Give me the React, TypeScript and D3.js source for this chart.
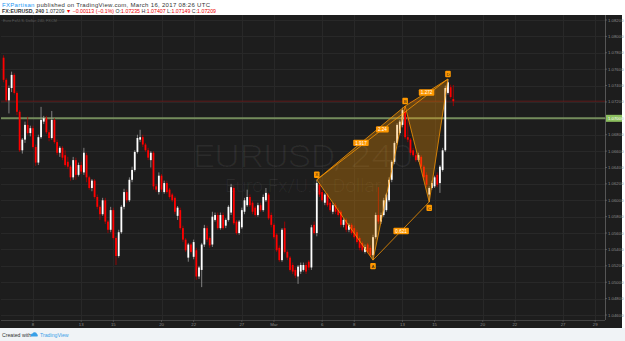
import React from "react";
import * as d3 from "d3";

// ---- data ----
// bar index (6 four-hour bars per trading day, bar 0 = Feb 6 2017 first bar)
const startBar = 1;
// [open, high, low, close]
const candles: number[][] = [
  [1.0774, 1.0777, 1.0744, 1.0747], [1.0747, 1.0749, 1.0720, 1.0722], [1.0722, 1.0740, 1.0706, 1.0737],
  [1.0737, 1.0757, 1.0732, 1.0753], [1.0753, 1.0755, 1.0729, 1.0731], [1.0731, 1.0733, 1.0704, 1.0708],
  [1.0708, 1.0710, 1.0659, 1.0661], [1.0661, 1.0676, 1.0657, 1.0674], [1.0674, 1.0696, 1.0670, 1.0692],
  [1.0692, 1.0702, 1.0680, 1.0682], [1.0682, 1.0691, 1.0678, 1.0688], [1.0688, 1.0691, 1.0663, 1.0665],
  [1.0665, 1.0668, 1.0642, 1.0646], [1.0646, 1.0680, 1.0643, 1.0677], [1.0677, 1.0714, 1.0675, 1.0698],
  [1.0696, 1.0703, 1.0693, 1.0700], [1.0700, 1.0703, 1.0681, 1.0683], [1.0683, 1.0686, 1.0672, 1.0676],
  [1.0676, 1.0709, 1.0674, 1.0698], [1.0698, 1.0700, 1.0669, 1.0671], [1.0671, 1.0674, 1.0655, 1.0658],
  [1.0658, 1.0666, 1.0653, 1.0664], [1.0664, 1.0666, 1.0649, 1.0652], [1.0655, 1.0661, 1.0641, 1.0643],
  [1.0647, 1.0653, 1.0638, 1.0641], [1.0641, 1.0643, 1.0624, 1.0628], [1.0628, 1.0653, 1.0625, 1.0649],
  [1.0649, 1.0652, 1.0625, 1.0631], [1.0631, 1.0646, 1.0629, 1.0643], [1.0643, 1.0647, 1.0632, 1.0635],
  [1.0634, 1.0664, 1.0631, 1.0658], [1.0655, 1.0658, 1.0622, 1.0628], [1.0628, 1.0630, 1.0613, 1.0615],
  [1.0615, 1.0626, 1.0611, 1.0624], [1.0624, 1.0626, 1.0602, 1.0604], [1.0604, 1.0607, 1.0589, 1.0592],
  [1.0592, 1.0594, 1.0576, 1.0583], [1.0583, 1.0603, 1.0581, 1.0600], [1.0600, 1.0603, 1.0571, 1.0574],
  [1.0574, 1.0576, 1.0560, 1.0564], [1.0564, 1.0592, 1.0561, 1.0588], [1.0588, 1.0591, 1.0552, 1.0554],
  [1.0554, 1.0556, 1.0521, 1.0532], [1.0532, 1.0564, 1.0530, 1.0561], [1.0561, 1.0594, 1.0559, 1.0592],
  [1.0592, 1.0614, 1.0589, 1.0610], [1.0610, 1.0613, 1.0597, 1.0600], [1.0600, 1.0628, 1.0598, 1.0625],
  [1.0625, 1.0641, 1.0622, 1.0637], [1.0637, 1.0661, 1.0635, 1.0659], [1.0659, 1.0680, 1.0657, 1.0676],
  [1.0674, 1.0686, 1.0671, 1.0677], [1.0677, 1.0680, 1.0665, 1.0668], [1.0668, 1.0670, 1.0659, 1.0661],
  [1.0661, 1.0664, 1.0649, 1.0652], [1.0649, 1.0660, 1.0640, 1.0658], [1.0658, 1.0660, 1.0613, 1.0617],
  [1.0617, 1.0620, 1.0610, 1.0613], [1.0610, 1.0634, 1.0607, 1.0630], [1.0630, 1.0632, 1.0610, 1.0613],
  [1.0610, 1.0624, 1.0608, 1.0621], [1.0621, 1.0624, 1.0608, 1.0610], [1.0613, 1.0615, 1.0602, 1.0604],
  [1.0607, 1.0609, 1.0598, 1.0600], [1.0603, 1.0605, 1.0583, 1.0586], [1.0581, 1.0593, 1.0576, 1.0591],
  [1.0588, 1.0591, 1.0564, 1.0566], [1.0566, 1.0569, 1.0549, 1.0552], [1.0552, 1.0554, 1.0537, 1.0539],
  [1.0530, 1.0548, 1.0525, 1.0546], [1.0546, 1.0548, 1.0535, 1.0537], [1.0531, 1.0552, 1.0528, 1.0549],
  [1.0539, 1.0542, 1.0503, 1.0507], [1.0507, 1.0520, 1.0504, 1.0518], [1.0515, 1.0548, 1.0494, 1.0546],
  [1.0546, 1.0570, 1.0543, 1.0566], [1.0566, 1.0569, 1.0549, 1.0552], [1.0554, 1.0556, 1.0542, 1.0545],
  [1.0546, 1.0586, 1.0543, 1.0580], [1.0576, 1.0585, 1.0574, 1.0582], [1.0582, 1.0585, 1.0564, 1.0566],
  [1.0566, 1.0585, 1.0564, 1.0582], [1.0582, 1.0585, 1.0564, 1.0566], [1.0569, 1.0578, 1.0566, 1.0576],
  [1.0576, 1.0594, 1.0574, 1.0592], [1.0585, 1.0620, 1.0582, 1.0616], [1.0615, 1.0617, 1.0570, 1.0572],
  [1.0574, 1.0576, 1.0558, 1.0560], [1.0560, 1.0576, 1.0558, 1.0574], [1.0567, 1.0591, 1.0565, 1.0588],
  [1.0586, 1.0603, 1.0583, 1.0600], [1.0594, 1.0613, 1.0592, 1.0604], [1.0604, 1.0607, 1.0592, 1.0594],
  [1.0597, 1.0599, 1.0583, 1.0586], [1.0591, 1.0593, 1.0580, 1.0582], [1.0582, 1.0597, 1.0580, 1.0594],
  [1.0594, 1.0597, 1.0586, 1.0588], [1.0588, 1.0607, 1.0586, 1.0604], [1.0600, 1.0615, 1.0598, 1.0609],
  [1.0607, 1.0609, 1.0576, 1.0578], [1.0582, 1.0585, 1.0567, 1.0570], [1.0570, 1.0572, 1.0553, 1.0555],
  [1.0558, 1.0560, 1.0537, 1.0539], [1.0542, 1.0545, 1.0525, 1.0527], [1.0527, 1.0566, 1.0525, 1.0564],
  [1.0566, 1.0574, 1.0535, 1.0537], [1.0537, 1.0539, 1.0527, 1.0530], [1.0530, 1.0532, 1.0513, 1.0515],
  [1.0521, 1.0524, 1.0510, 1.0513], [1.0515, 1.0518, 1.0505, 1.0508], [1.0507, 1.0521, 1.0498, 1.0519],
  [1.0513, 1.0524, 1.0510, 1.0521], [1.0515, 1.0524, 1.0513, 1.0521], [1.0521, 1.0524, 1.0510, 1.0513],
  [1.0525, 1.0527, 1.0515, 1.0518], [1.0518, 1.0570, 1.0515, 1.0567], [1.0570, 1.0574, 1.0558, 1.0560],
  [1.0560, 1.0625, 1.0556, 1.0621], [1.0619, 1.0621, 1.0604, 1.0607], [1.0610, 1.0613, 1.0598, 1.0600],
  [1.0597, 1.0609, 1.0594, 1.0607], [1.0607, 1.0609, 1.0592, 1.0594], [1.0597, 1.0599, 1.0586, 1.0588],
  [1.0586, 1.0597, 1.0583, 1.0594], [1.0594, 1.0597, 1.0583, 1.0586], [1.0588, 1.0591, 1.0580, 1.0582],
  [1.0586, 1.0588, 1.0567, 1.0570], [1.0570, 1.0578, 1.0567, 1.0576], [1.0576, 1.0578, 1.0561, 1.0564],
  [1.0564, 1.0572, 1.0561, 1.0570], [1.0570, 1.0572, 1.0558, 1.0560], [1.0566, 1.0569, 1.0553, 1.0555],
  [1.0561, 1.0564, 1.0547, 1.0549], [1.0554, 1.0556, 1.0539, 1.0542], [1.0548, 1.0550, 1.0537, 1.0539],
  [1.0537, 1.0546, 1.0535, 1.0543], [1.0546, 1.0548, 1.0535, 1.0537], [1.0542, 1.0545, 1.0531, 1.0533],
  [1.0533, 1.0558, 1.0527, 1.0555], [1.0555, 1.0585, 1.0553, 1.0582], [1.0582, 1.0616, 1.0571, 1.0574],
  [1.0574, 1.0585, 1.0571, 1.0582], [1.0582, 1.0603, 1.0580, 1.0600], [1.0588, 1.0609, 1.0586, 1.0607],
  [1.0600, 1.0628, 1.0598, 1.0625], [1.0625, 1.0649, 1.0622, 1.0647], [1.0647, 1.0672, 1.0644, 1.0670],
  [1.0670, 1.0694, 1.0668, 1.0692], [1.0682, 1.0698, 1.0680, 1.0696], [1.0692, 1.0713, 1.0689, 1.0710],
  [1.0708, 1.0715, 1.0675, 1.0677], [1.0677, 1.0704, 1.0671, 1.0674], [1.0674, 1.0676, 1.0655, 1.0658],
  [1.0661, 1.0664, 1.0653, 1.0655], [1.0655, 1.0658, 1.0647, 1.0649], [1.0649, 1.0658, 1.0647, 1.0655],
  [1.0653, 1.0655, 1.0638, 1.0641], [1.0641, 1.0643, 1.0625, 1.0628], [1.0631, 1.0634, 1.0616, 1.0619],
  [1.0607, 1.0617, 1.0598, 1.0615], [1.0615, 1.0624, 1.0613, 1.0621], [1.0617, 1.0630, 1.0615, 1.0628],
  [1.0631, 1.0634, 1.0616, 1.0619], [1.0621, 1.0643, 1.0609, 1.0641], [1.0637, 1.0664, 1.0635, 1.0661],
  [1.0661, 1.0740, 1.0659, 1.0737], [1.0731, 1.0748, 1.0729, 1.0744], [1.0738, 1.0741, 1.0724, 1.0726],
  [1.07235, 1.07407, 1.07149, 1.07209],
];

const priceTicks = [1.082, 1.080, 1.078, 1.076, 1.074, 1.072, 1.070, 1.068, 1.066, 1.064, 1.062, 1.060,
  1.058, 1.056, 1.054, 1.052, 1.050, 1.048, 1.046];
const dayTickLabels = ["8", "13", "15", "20", "22", "27", "Mar", "6", "8", "13", "15", "20", "22", "27", "29"];
const dayTickIndex = [2, 5, 7, 10, 12, 15, 17, 20, 22, 25, 27, 30, 32, 35, 37];
const barsPerDay = 6;

const lastPrice = 1.07209;
const horizontalLevel = 1.07;

const patternNames = ["X", "A", "B", "C", "D"];
const patternBars = [118, 139, 151, 160, 167];
const patternPrices = [1.0625, 1.0527, 1.0715, 1.0598, 1.0748];
// ratio labels: [from point, to point, text]
const ratioFrom = [0, 0, 2, 1];
const ratioTo = [2, 4, 4, 3];
const ratioText = ["1.917", "2.24", "1.272", "0.621"];

const headerLine1 = "published on TradingView.com, March 16, 2017 08:26 UTC";

export default function App() {
  const W = 625, H = 341;
  const paneL = 1, paneR = 605, paneT = 15, paneB = 320;
  const x = d3.scaleLinear().domain([0, 222]).range([0.9, 595.2]);
  const y = d3.scaleLinear().domain([1.046, 1.082]).range([315, 20]);
  const fmt = d3.format(".5f");
  const bodyW = 1.8;

  const pts = patternBars.map((b, i) => [x(b), y(patternPrices[i])] as [number, number]);
  const tri = (a: number, b: number, c: number) =>
    d3.line()([pts[a], pts[b], pts[c], pts[a]]) as string;
  const orange = "#ff9800";
  const segs: [number, number][] = [[0, 1], [1, 2], [2, 3], [3, 4], [0, 2], [2, 4], [0, 4], [1, 3]];

  return (
    <svg width={W} height={H} style={{ position: "absolute", left: 0, top: 0, display: "block" }}
      fontFamily="'Liberation Sans', Arial, sans-serif">
      <rect x={0} y={0} width={W} height={H} fill="#ffffff" />
      {/* header */}
      <text x={2} y={6.5} fontSize={6} fill="#333" textLength={208} lengthAdjust="spacing">
        <tspan fill="#2196f3">FXPartisan</tspan> {headerLine1}
      </text>
      <text x={2} y={12.5} fontSize={5.2} fill="#333" textLength={214} lengthAdjust="spacing">
        <tspan fontWeight="bold">FX:EURUSD, 240</tspan> 1.07209 <tspan fill="#e00">▼ −0.00113 (−0.1%)</tspan> O:<tspan fill="#e00">1.07235</tspan> H:<tspan fill="#e00">1.07407</tspan> L:<tspan fill="#e00">1.07149</tspan> C:<tspan fill="#e00">1.07209</tspan>
      </text>
      {/* dark chart area */}
      <rect x={0} y={paneT} width={622} height={328 - paneT} fill="#1d1d1d" />
      <g clipPath="url(#pane)">
        <defs>
          <clipPath id="pane"><rect x={paneL} y={paneT} width={paneR - paneL} height={paneB - paneT} /></clipPath>
        </defs>
        {priceTicks.map((p, i) => (
          <line key={"hg" + i} x1={paneL} x2={paneR} y1={Math.round(y(p)) + 0.5} y2={Math.round(y(p)) + 0.5} stroke="#282828" />
        ))}
        {dayTickIndex.map((d, i) => (
          <line key={"vg" + i} x1={Math.round(x(d * barsPerDay)) + 0.5} x2={Math.round(x(d * barsPerDay)) + 0.5} y1={paneT} y2={paneB} stroke="#282828" />
        ))}
        <text x={3} y={21.5} fontSize={3.8} fill="#5a5a5a">Euro Fx/U.S. Dollar, 240, FXCM</text>
        {/* watermark */}
        <text x={303} y={167} fontSize={31} fill="#ffffff" fillOpacity={0.06} textAnchor="middle"
          fontFamily="Roboto, 'Open Sans', sans-serif" fontWeight={300} textLength={220} lengthAdjust="spacingAndGlyphs">EURUSD, 240</text>
        <text x={303} y={192} fontSize={17.5} fill="#ffffff" fillOpacity={0.06} textAnchor="middle"
          fontFamily="Roboto, 'Open Sans', sans-serif" fontWeight={300} textLength={156} lengthAdjust="spacingAndGlyphs">Euro Fx/U.S. Dollar</text>
        {/* last price line */}
        <line x1={paneL} x2={paneR} y1={y(lastPrice)} y2={y(lastPrice)} stroke="#6e1a1a" strokeWidth={0.8} />
        {/* horizontal level */}
        <line x1={paneL} x2={paneR} y1={y(horizontalLevel)} y2={y(horizontalLevel)} stroke="#748c5c" strokeWidth={2} />
        {/* candles */}
        {candles.map((c, i) => {
          const [o, h, l, cl] = c;
          const cx = x(startBar + i);
          const up = cl >= o;
          const col = up ? "#ffffff" : "#ff0000";
          const top = y(Math.max(o, cl));
          const bot = y(Math.min(o, cl));
          return (
            <g key={"c" + i}>
              <line x1={cx} x2={cx} y1={y(h)} y2={y(l)} stroke={up ? "#9a9a9a" : "#b00000"} strokeWidth={0.8} />
              <rect x={cx - bodyW / 2} y={top} width={bodyW} height={Math.max(0.8, bot - top)} fill={col} />
            </g>
          );
        })}
        {/* harmonic pattern */}
        <path d={tri(0, 1, 2)} fill={orange} fillOpacity={0.3} stroke="none" />
        <path d={tri(2, 3, 4)} fill={orange} fillOpacity={0.3} stroke="none" />
        {segs.map(([a, b], i) => (
          <line key={"s" + i} x1={pts[a][0]} y1={pts[a][1]} x2={pts[b][0]} y2={pts[b][1]}
            stroke={orange} strokeOpacity={0.85} strokeWidth={0.9} />
        ))}
        {ratioText.map((t, i) => {
          const a = pts[ratioFrom[i]], b = pts[ratioTo[i]];
          const mx = (a[0] + b[0]) / 2, my = (a[1] + b[1]) / 2;
          const w = t.length * 2.7 + 2;
          return (
            <g key={"r" + i}>
              <rect x={mx - w / 2} y={my - 3.2} width={w} height={6.4} rx={1} fill={orange} />
              <text x={mx} y={my + 1.7} fontSize={4.6} fill="#ffffff" textAnchor="middle">{t}</text>
            </g>
          );
        })}
        {patternNames.map((n, i) => {
          const above = i % 2 === 0;
          const px = pts[i][0];
          const py = pts[i][1] + (above ? -5 : 6);
          return (
            <g key={"p" + i}>
              <rect x={px - 2.8} y={py - 3.2} width={5.6} height={6.4} rx={1} fill={orange} />
              <text x={px} y={py + 1.7} fontSize={4.4} fill="#1d1d1d" textAnchor="middle">{n}</text>
            </g>
          );
        })}
      </g>
      {/* axes borders */}
      <line x1={paneR + 0.5} x2={paneR + 0.5} y1={paneT} y2={paneB} stroke="#555" strokeWidth={1} />
      <line x1={paneL} x2={paneR} y1={paneB + 0.5} y2={paneB + 0.5} stroke="#444" strokeWidth={1} />
      {/* price axis */}
      {priceTicks.map((p, i) => (
        <g key={"pt" + i}>
          <line x1={paneR} x2={paneR + 2} y1={y(p)} y2={y(p)} stroke="#777" strokeWidth={0.6} />
          <text x={paneR + 3} y={y(p) + 1.5} fontSize={4.3} fill="#8a8a8a">{fmt(p)}</text>
        </g>
      ))}
      <rect x={paneR + 1} y={y(horizontalLevel) - 3.5} width={16} height={7} fill="#8cbf5f" />
      <text x={paneR + 3} y={y(horizontalLevel) + 1.6} fontSize={4.3} fill="#ffffff">{fmt(horizontalLevel)}</text>
      {/* time axis */}
      {dayTickIndex.map((d, i) => (
        <g key={"tt" + i}>
          <line x1={x(d * barsPerDay)} x2={x(d * barsPerDay)} y1={paneB} y2={paneB + 2} stroke="#666" strokeWidth={0.6} />
          <text x={x(d * barsPerDay)} y={326} fontSize={4.3} fill="#8a8a8a" textAnchor="middle">{dayTickLabels[i]}</text>
        </g>
      ))}
      {/* footer */}
      <rect x={0} y={328} width={W} height={H - 328} fill="#f0f3f6" />
      <text x={2} y={337} fontSize={5.2} fill="#333">Created with</text>
      <path d="M31,336.5 a2,2 0 0 1 1.5,-3 a2.5,2.5 0 0 1 4.5,0.5 a1.8,1.8 0 0 1 0.5,2.5 Z" fill="#3aa0e8" />
      <text x={40} y={337} fontSize={5.2} fill="#3aa0e8">TradingView</text>
    </svg>
  );
}
